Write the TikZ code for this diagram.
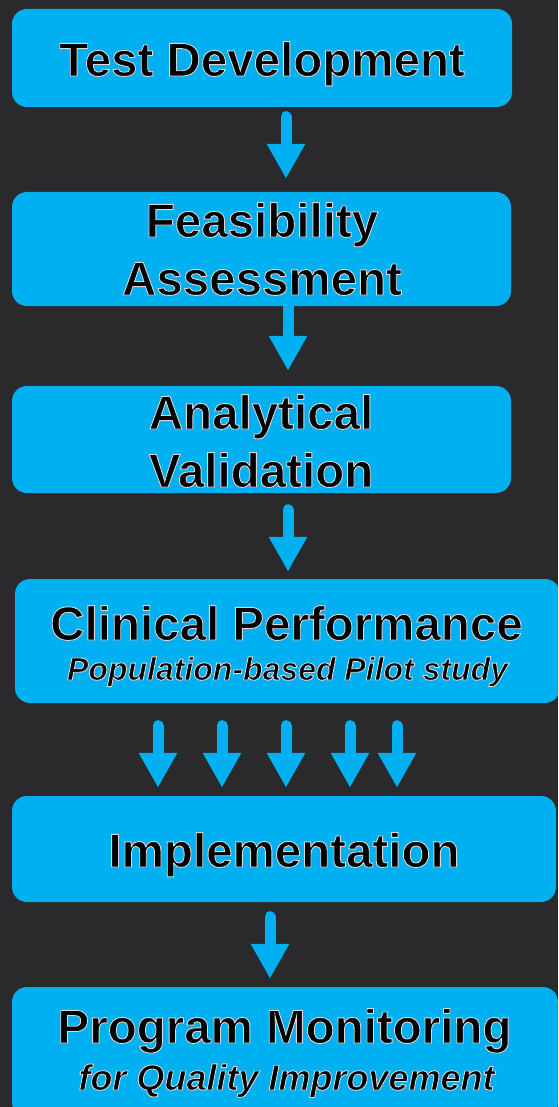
\documentclass[tikz,border=0pt]{standalone}
\usepackage{fontspec}
\setmainfont{Liberation Sans}
\usetikzlibrary{arrows.meta}
\definecolor{stepblue}{RGB}{0,176,240}
\definecolor{board}{RGB}{42,42,45}
% black letters with a thin light rim
\newcommand{\rimtext}[1]{\special{pdf:literal direct 2 Tr 0.85 0.85 0.85 RG 0.9 w}#1\special{pdf:literal direct 0 Tr}}

\begin{document}
\begin{tikzpicture}[x=1pt, y=-1pt,
    box/.style={fill=stepblue, rounded corners=15pt, inner sep=0pt},
    title/.style={anchor=base, inner sep=0pt, font=\bfseries\fontsize{47.5}{58}\selectfont},
    subtitle/.style={anchor=base, inner sep=0pt, font=\bfseries\itshape\fontsize{#1}{#1}\selectfont},
    flow/.style={stepblue, line width=11pt, line cap=round, -{Triangle[width=36pt, length=35pt]}}]
    \useasboundingbox (0, 0) rectangle (558, 1107);
    \clip (0, 0) rectangle (558, 1107);
    \fill[board] (0, 0) rectangle (558, 1107);

    % Test Development
    \node[box, minimum width=500pt, minimum height=98pt] (dev) at (262, 58) {};
    \node[title] (devtxt) at (262, 76) {\rimtext{Test Development}};

    % Feasibility
    \node[box, minimum width=499pt, minimum height=114pt] (feas) at (261.5, 249) {};
    \node[title] (feastxt) at (262, 237) {\rimtext{Feasibility}};
    \node[title] (feastxtb) at (262, 295) {\rimtext{Assessment}};

    % Analytical
    \node[box, minimum width=499pt, minimum height=107pt] (anal) at (261.5, 439.5) {};
    \node[title] (analtxt) at (261, 429) {\rimtext{Analytical}};
    \node[title] (analtxtb) at (261, 487) {\rimtext{Validation}};

    % Clinical
    \node[box, minimum width=545pt, minimum height=124pt] (clin) at (287.5, 641) {};
    \node[title] (clintxt) at (286.5, 640) {\rimtext{Clinical Performance}};
    \node[subtitle=32] (clinsub) at (287.5, 680) {\rimtext{Population-based Pilot study}};

    % Implementation
    \node[box, minimum width=544pt, minimum height=106pt] (impl) at (284, 849) {};
    \node[title] (impltxt) at (284, 867) {\rimtext{Implementation}};

    % Monitoring
    \node[box, minimum width=546pt, minimum height=130pt] (mon) at (285, 1052) {};
    \node[title] (montxt) at (284.5, 1043) {\rimtext{Program Monitoring}};
    \node[subtitle=36] (monsub) at (286.5, 1090) {\rimtext{for Quality Improvement}};

    % Arrows
    \draw[flow, shorten <=9.5pt, shorten >=13pt] ([xshift=24pt]dev.south) -- ([xshift=24pt]dev.south |- feas.north);
    \draw[flow, shorten <=0pt, shorten >=15pt] ([xshift=26.5pt]feas.south) -- ([xshift=26.5pt]feas.south |- anal.north);
    \draw[flow, shorten <=16.5pt, shorten >=7pt] ([xshift=26.5pt]anal.south) -- ([xshift=26.5pt]anal.south |- clin.north);
    \foreach \dx in {-129.5, -65.5, -1.5, 62.5, 109.5}
        \draw[flow, shorten <=22.5pt, shorten >=8pt] ([xshift=\dx pt]clin.south) -- ([xshift=\dx pt]clin.south |- impl.north);
    \draw[flow, shorten <=14.5pt, shorten >=8pt] ([xshift=-14pt]impl.south) -- ([xshift=-14pt]impl.south |- mon.north);
\end{tikzpicture}
\end{document}
